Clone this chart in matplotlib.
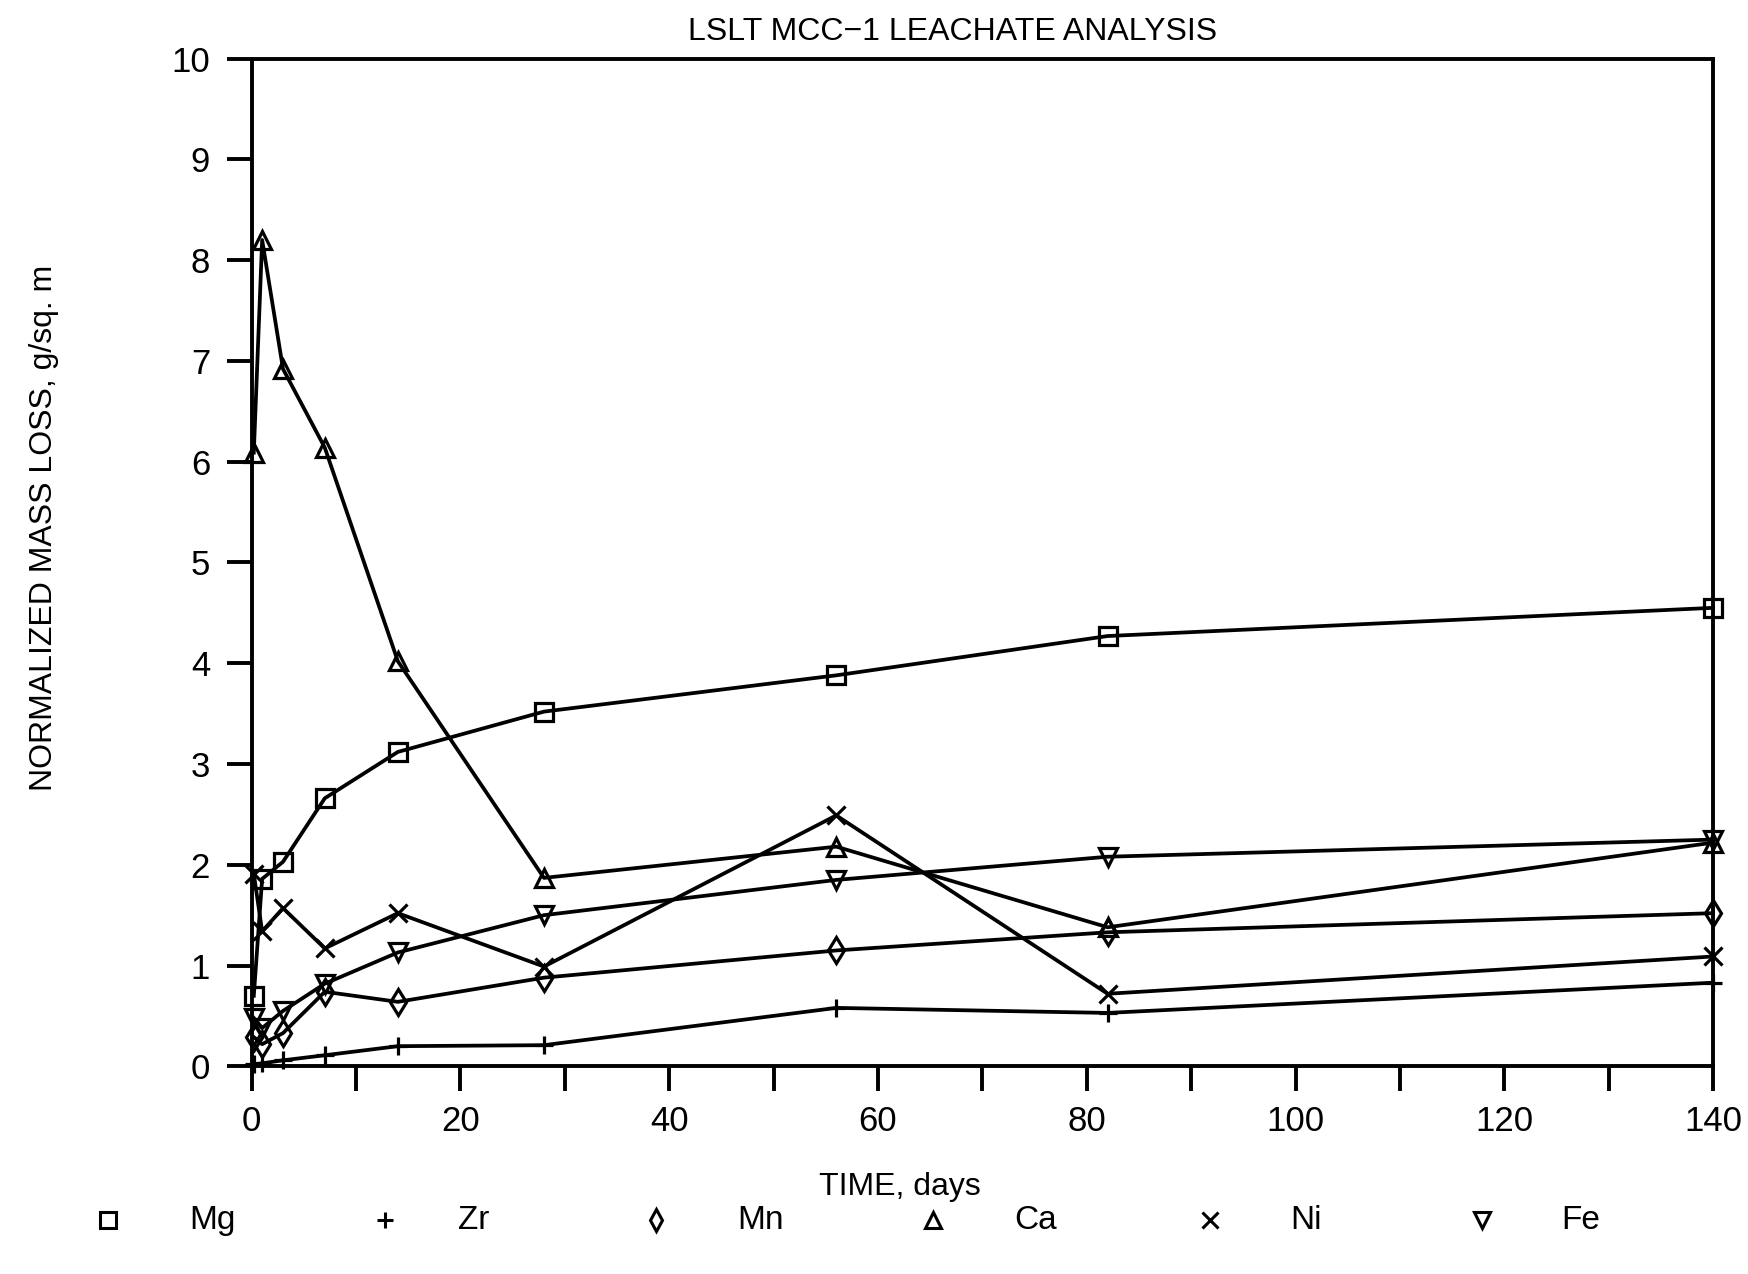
import matplotlib
matplotlib.use("Agg")
import matplotlib.pyplot as plt
from matplotlib.lines import Line2D

plt.rcParams['font.family'] = ['Liberation Sans', 'DejaVu Sans']

# ---- data ----
time_days = [0.2, 1, 3, 7, 14, 28, 56, 82, 140]
mg = [0.70, 1.86, 2.03, 2.66, 3.12, 3.52, 3.88, 4.27, 4.55]
zr = [0.02, 0.03, 0.06, 0.11, 0.20, 0.21, 0.58, 0.53, 0.83]
mn = [0.29, 0.22, 0.33, 0.74, 0.64, 0.88, 1.15, 1.33, 1.52]
ca = [6.09, 8.20, 6.92, 6.14, 4.02, 1.87, 2.18, 1.38, 2.22]
ni = [1.91, 1.34, 1.57, 1.17, 1.52, 0.99, 2.49, 0.72, 1.09]
fe = [0.48, 0.38, 0.55, 0.82, 1.13, 1.50, 1.85, 2.08, 2.25]

series_names = ["Mg", "Zr", "Mn", "Ca", "Ni", "Fe"]
series_values = [mg, zr, mn, ca, ni, fe]
series_markers = ["s", "+", "d", "^", "x", "v"]

x_ticks = [0, 20, 40, 60, 80, 100, 120, 140]
x_minor = [10, 30, 50, 70, 90, 110, 130]
y_ticks = [0, 1, 2, 3, 4, 5, 6, 7, 8, 9, 10]

title = "LSLT MCC\u22121 LEACHATE ANALYSIS"
xlabel = "TIME, days"
ylabel = "NORMALIZED MASS LOSS, g/sq. m"

# ---- figure ----
fig = plt.figure(figsize=(17.48, 12.74), dpi=100)
ax = fig.add_axes([0.144, 0.163, 0.836, 0.791])

for vals, mk in zip(series_values, series_markers):
    ax.plot(time_days, vals, color="black", lw=2.7, marker=mk,
            markersize=13, markerfacecolor="none", markeredgecolor="black",
            markeredgewidth=2.3, clip_on=False)

ax.set_xlim(0, 140)
ax.set_ylim(0, 10)
ax.set_xticks(x_ticks)
ax.set_xticks(x_minor, minor=True)
ax.set_yticks(y_ticks)
ax.tick_params(axis="both", which="both", direction="out", length=18,
               width=2.8, labelsize=25)
ax.tick_params(axis="x", which="major", pad=10)
ax.tick_params(axis="y", which="major", pad=12)
for s in ax.spines.values():
    s.set_linewidth(2.8)

fig.text(0.545, 0.975, title, ha="center", va="center", fontsize=23)
fig.text(0.025, 0.586, ylabel, rotation=90, ha="center", va="center",
         fontsize=23)
fig.text(0.515, 0.068, xlabel, ha="center", va="center", fontsize=23)

# legend row drawn from the series styles
marker_x = [0.062, 0.22, 0.375, 0.534, 0.692, 0.848]
label_x = [0.108, 0.262, 0.422, 0.58, 0.738, 0.893]
leg_y = 0.042
for name, mk, mx, lx in zip(series_names, series_markers, marker_x, label_x):
    fig.add_artist(Line2D([mx], [leg_y], transform=fig.transFigure,
                          marker=mk, markersize=11, markerfacecolor="none",
                          markeredgecolor="black", markeredgewidth=2.2,
                          linestyle="none"))
    fig.text(lx, leg_y, name, ha="left", va="center", fontsize=24)

fig.savefig("out.png", dpi=100, facecolor="white")
